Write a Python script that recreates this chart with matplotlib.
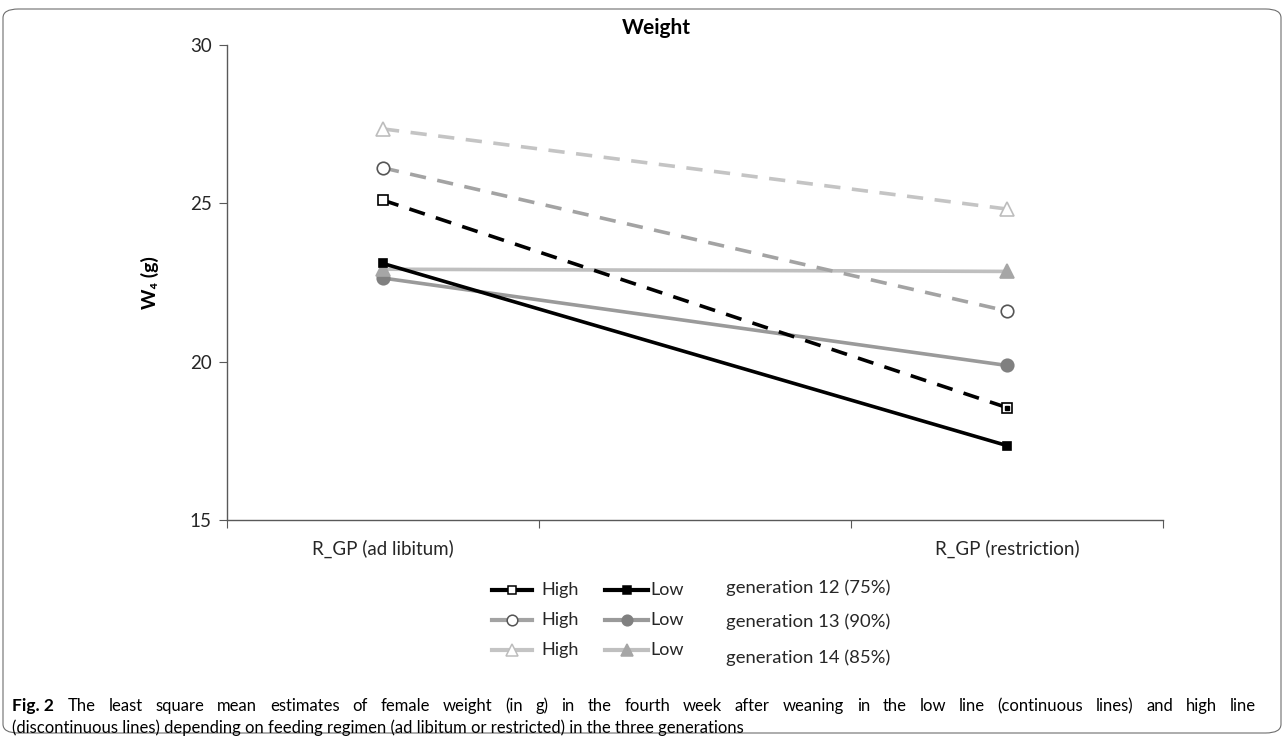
import matplotlib
matplotlib.use("Agg")
import matplotlib.pyplot as plt
from matplotlib.lines import Line2D
from matplotlib.patches import FancyBboxPatch

plt.rcParams['font.family'] = ['Lato', 'DejaVu Sans']

# Datos
categories = ['R_GP (ad libitum)', '', 'R_GP (restriction)']
generations = ['generation 12 (75%)', 'generation 13 (90%)', 'generation 14 (85%)']
high_g12 = [25.10, 18.55]
low_g12 = [23.10, 17.35]
high_g13 = [26.12, 21.60]
low_g13 = [22.64, 19.88]
high_g14 = [27.35, 24.82]
low_g14 = [22.92, 22.85]
y_ticks = [15, 20, 25, 30]

# posiciones de las categorías con datos
xpos = [0, 2]

dash = (0, (4.5, 3.2))
styles = {
    'high_g12': dict(color='black', ls=dash, marker='s', mfc='white', mec='black', ms=7),
    'low_g12': dict(color='black', ls='-', marker='s', mfc='black', mec='black', ms=6),
    'high_g13': dict(color='#a3a3a3', ls=dash, marker='o', mfc='white', mec='#555555', ms=9),
    'low_g13': dict(color='#9a9a9a', ls='-', marker='o', mfc='#808080', mec='#808080', ms=9),
    'high_g14': dict(color='#c4c4c4', ls=dash, marker='^', mfc='white', mec='#bdbdbd', ms=10),
    'low_g14': dict(color='#bfbfbf', ls='-', marker='^', mfc='#a6a6a6', mec='#a6a6a6', ms=10),
}
series = {'high_g12': high_g12, 'low_g12': low_g12, 'high_g13': high_g13,
          'low_g13': low_g13, 'high_g14': high_g14, 'low_g14': low_g14}

W, H = 1284, 736
fig = plt.figure(figsize=(W / 100, H / 100), dpi=100)
ax = fig.add_axes([227 / W, 1 - 520 / H, (1163 - 227) / W, (520 - 45) / H])

order = ['low_g13', 'low_g14', 'low_g12', 'high_g12', 'high_g13', 'high_g14']
for name in order:
    st = styles[name]
    ax.plot(xpos, series[name], color=st['color'], linestyle=st['ls'], lw=2.6,
            marker=st['marker'], markerfacecolor=st['mfc'], markeredgecolor=st['mec'],
            markersize=st['ms'], markeredgewidth=1.2)
# punto interior del cuadrado (estilo Excel)
ax.plot(xpos[1:], high_g12[1:], linestyle='none', marker='s', ms=2.5, color='black')

ax.set_xlim(-0.5, len(categories) - 0.5)
ax.set_ylim(15, 30)
ax.set_yticks(y_ticks)
ax.set_yticklabels([str(t) for t in y_ticks], fontsize=13.5, color='#262626')
ax.set_xticks([i - 0.5 for i in range(len(categories) + 1)])
ax.set_xticklabels([])
ax.set_xticks(range(len(categories)), minor=True)
ax.set_xticklabels(categories, minor=True, fontsize=13.5, color='#262626')
ax.tick_params(axis='x', which='minor', length=0, pad=14)
ax.tick_params(axis='x', which='major', length=6, color='#595959')
ax.tick_params(axis='y', length=6, color='#595959', pad=5)
for s in ['top', 'right']:
    ax.spines[s].set_visible(False)
for s in ['left', 'bottom']:
    ax.spines[s].set_color('#595959')
    ax.spines[s].set_linewidth(1.0)

ax.set_ylabel('W\u2084 (g)', fontsize=14, fontweight='bold', labelpad=22)
fig.text(656 / W, 1 - 28 / H, 'Weight', fontsize=15, fontweight='bold',
         ha='center', va='center')

# leyenda manual
rows_y = [590, 620, 650]
gen_y = [588, 622, 658]
high_names = ['high_g12', 'high_g13', 'high_g14']
low_names = ['low_g12', 'low_g13', 'low_g14']
for i in range(3):
    y = 1 - rows_y[i] / H
    for name, x0, x1, tx, lab in [(high_names[i], 492, 532, 541, 'High'),
                                  (low_names[i], 605, 648, 650, 'Low')]:
        st = styles[name]
        fig.add_artist(Line2D([x0 / W, x1 / W], [y, y], transform=fig.transFigure,
                              color=st['color'], lw=3))
        fig.add_artist(Line2D([(x0 + x1) / 2 / W], [y], transform=fig.transFigure,
                              linestyle='none', marker=st['marker'],
                              markerfacecolor=st['mfc'], markeredgecolor=st['mec'],
                              markersize=st['ms'] * 0.85, markeredgewidth=1.1))
        fig.text(tx / W, y, lab, fontsize=13, va='center', ha='left', color='#262626')
    fig.text(726 / W, 1 - gen_y[i] / H, generations[i], fontsize=13.3,
             va='center', ha='left', color='#262626')

# marco redondeado
fig.add_artist(FancyBboxPatch((3 / W, 3 / H), (W - 6) / W, (H - 12) / H,
                              boxstyle='round,pad=0,rounding_size=0.012',
                              transform=fig.transFigure, fill=False,
                              ec='#6e6e6e', lw=0.8))

# pie de figura (primera línea justificada)
cap_font = ['Lato', 'DejaVu Sans']
cap_size = 12
fig.text(12 / W, 1 - 706 / H, 'Fig. 2', fontsize=cap_size + 0.5, fontweight='bold',
         family=cap_font, va='center', ha='left')
line1 = ('The least square mean estimates of female weight (in g) in the fourth week after weaning '
         'in the low line (continuous lines) and high line')
line2 = '(discontinuous lines) depending on feeding regimen (ad libitum or restricted) in the three generations'

words = line1.split()
renderer = fig.canvas.get_renderer()
word_texts = [fig.text(0, 1 - 706 / H, w, fontsize=cap_size, family=cap_font,
                       va='center', ha='left') for w in words]
widths = [t.get_window_extent(renderer).width for t in word_texts]
x_start, x_end = 68, 1256
gap = (x_end - x_start - sum(widths)) / (len(words) - 1)
x = x_start
for t, w in zip(word_texts, widths):
    t.set_x(x / W)
    x += w + gap

fig.text(12 / W, 1 - 728 / H, line2, fontsize=cap_size, family=cap_font,
         va='center', ha='left')

fig.savefig('out.png', dpi=100)
